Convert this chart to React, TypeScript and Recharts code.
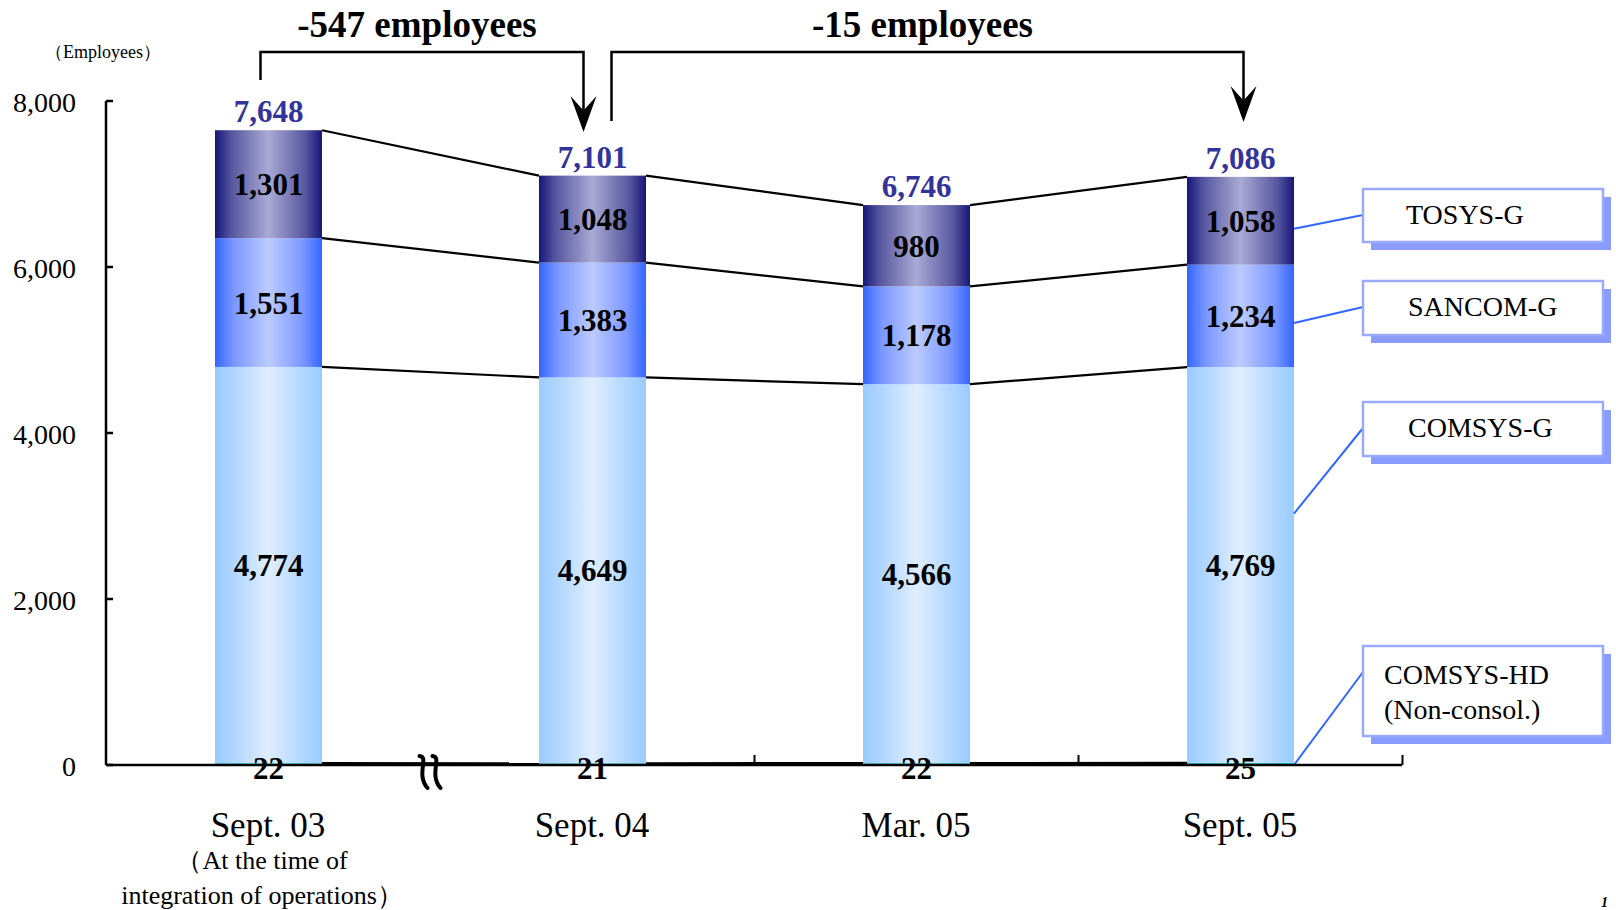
import React from "react";
import { Bar, BarChart, LabelList, XAxis, YAxis } from "recharts";

const periods = ["Sept. 03", "Sept. 04", "Mar. 05", "Sept. 05"];
const periodNote = ["（At the time of", "integration of operations）"];
const comsysHd = [22, 21, 22, 25];
const comsysG = [4774, 4649, 4566, 4769];
const sancomG = [1551, 1383, 1178, 1234];
const tosysG = [1301, 1048, 980, 1058];
const totals = [7648, 7101, 6746, 7086];
const yTicks = [0, 2000, 4000, 6000, 8000];
const changeLabels = ["-547 employees", "-15 employees"];

type Key = "hd" | "comsys" | "sancom" | "tosys";
const order: Key[] = ["hd", "comsys", "sancom", "tosys"];

const data = periods.map((period, i) => ({
  period,
  hd: comsysHd[i],
  comsys: comsysG[i],
  sancom: sancomG[i],
  tosys: tosysG[i],
  total: totals[i],
}));

// running stack tops, used by the connector lines between bars
const tops: Record<Key, number[]> = { hd: [], comsys: [], sancom: [], tosys: [] };
data.forEach((d, i) => {
  let acc = 0;
  order.forEach((k) => {
    acc += d[k];
    tops[k][i] = acc;
  });
});

const W = 1616;
const H = 910;
const MARGIN = { top: 101, right: 214, bottom: 0, left: 0 };
const Y_AXIS_W = 106;
const X_AXIS_H = 145;
const PLOT_W = W - MARGIN.left - MARGIN.right - Y_AXIS_W;
const STEP = PLOT_W / periods.length;
const Y_MAX = yTicks[yTicks.length - 1];
const SERIF = "'Liberation Serif', 'Times New Roman', Times, serif";

const fills: Record<Key, string> = {
  hd: "#33cccc",
  comsys: "url(#gComsys)",
  sancom: "url(#gSancom)",
  tosys: "url(#gTosys)",
};

const callouts: Record<Key, { lines: string[]; top: number; height: number; anchor: number; textX: number }> = {
  tosys: { lines: ["TOSYS-G"], top: 189, height: 53, anchor: 0.59, textX: 43 },
  sancom: { lines: ["SANCOM-G"], top: 281, height: 54, anchor: 0.57, textX: 45 },
  comsys: { lines: ["COMSYS-G"], top: 402, height: 54, anchor: 0.37, textX: 45 },
  hd: { lines: ["COMSYS-HD", "(Non-consol.)"], top: 646, height: 90, anchor: 1, textX: 21 },
};

const fmt = (v: number) => Number(v).toLocaleString("en-US");

function Callout({ k, barRight, segTop, segH }: { k: Key; barRight: number; segTop: number; segH: number }) {
  const c = callouts[k];
  const bx = barRight + 69;
  const bw = 240;
  return (
    <g>
      <line x1={barRight} y1={segTop + segH * c.anchor} x2={bx} y2={c.top + 26} stroke="#3366ff" strokeWidth={2} />
      <rect x={bx + 8} y={c.top + 8} width={bw} height={c.height} fill="#8a9cff" />
      <rect x={bx} y={c.top} width={bw} height={c.height} fill="#fff" stroke="#9aabff" strokeWidth={2.5} />
      {c.lines.map((t, i) => (
        <text key={t} x={bx + c.textX} y={c.top + (c.lines.length > 1 ? 38 + i * 35 : 35)} fontFamily={SERIF} fontSize={28} fill="#000">
          {t}
        </text>
      ))}
    </g>
  );
}

function Bracket({ x1, x2, yStart, yTip, label }: { x1: number; x2: number; yStart: number; yTip: number; label: string }) {
  const yTop = 52;
  const headH = 36;
  const headW = 13;
  return (
    <g>
      <polyline
        points={`${x1},${yStart} ${x1},${yTop} ${x2},${yTop} ${x2},${yTip - headH * 0.6}`}
        fill="none"
        stroke="#000"
        strokeWidth={2.5}
      />
      <path
        d={`M${x2},${yTip} L${x2 - headW},${yTip - headH} L${x2},${yTip - headH * 0.6} L${x2 + headW},${yTip - headH} Z`}
        fill="#000"
      />
      <text x={(x1 + x2) / 2 - 5} y={37} textAnchor="middle" fontFamily={SERIF} fontSize={37} fontWeight="bold" fill="#000">
        {label}
      </text>
    </g>
  );
}

// one wavy stroke of the axis break mark
const breakStroke = (sx: number, base: number) =>
  `M${sx - 5},${base - 9} C${sx + 5},${base - 8} ${sx - 9},${base + 9} ${sx + 3},${base + 23}`;

function makeShape(key: Key) {
  return (props: any) => {
    const { x, y, width, height, index, background } = props;
    const plotTop = background?.y ?? MARGIN.top;
    const plotH = background?.height ?? H - MARGIN.top - X_AXIS_H;
    const yOf = (v: number) => plotTop + plotH * (1 - v / Y_MAX);
    const right = x + width;
    const base = y + height;
    const boundary = x + width / 2 + STEP / 2;
    const cx = x + width / 2;
    return (
      <g>
        <rect x={x} y={y} width={width} height={Math.max(height, 0)} fill={fills[key]} />
        {index < periods.length - 1 && (
          <line x1={right} y1={y} x2={x + STEP} y2={yOf(tops[key][index + 1])} stroke="#000" strokeWidth={2.2} />
        )}
        {key === "hd" && index === 0 && (
          <g stroke="#000" strokeWidth={4} fill="none" strokeLinecap="round">
            <path d={breakStroke(boundary - 6, base)} />
            <path d={breakStroke(boundary + 7, base)} />
          </g>
        )}
        {key === "hd" && index > 0 && (
          <line x1={boundary} y1={base} x2={boundary} y2={base - 10} stroke="#000" strokeWidth={2} />
        )}
        {key === "tosys" && index === 0 && (
          <Bracket x1={cx - 8} x2={cx + STEP - 9} yStart={80} yTip={132} label={changeLabels[0]} />
        )}
        {key === "tosys" && index === 1 && (
          <Bracket x1={cx + 19} x2={cx + 2 * STEP + 3} yStart={121} yTip={122} label={changeLabels[1]} />
        )}
        {index === periods.length - 1 && <Callout k={key} barRight={right} segTop={y} segH={height} />}
      </g>
    );
  };
}

const box = (p: any) => {
  const vb = p.viewBox && p.viewBox.width !== undefined ? p.viewBox : p;
  return { x: Number(vb.x), y: Number(vb.y), width: Number(vb.width), height: Number(vb.height) };
};

const centerLabel = (p: any) => {
  const b = box(p);
  return (
    <text x={b.x + b.width / 2} y={b.y + b.height / 2 + 11} textAnchor="middle" fontFamily={SERIF} fontSize={31} fontWeight="bold" fill="#000">
      {fmt(p.value)}
    </text>
  );
};

const totalLabel = (p: any) => {
  const b = box(p);
  return (
    <text x={b.x + b.width / 2} y={b.y - 8} textAnchor="middle" fontFamily={SERIF} fontSize={31} fontWeight="bold" fill="#333399">
      {fmt(p.value)}
    </text>
  );
};

const hdLabel = (p: any) => {
  const b = box(p);
  return (
    <text x={b.x + b.width / 2} y={b.y + b.height + 14} textAnchor="middle" fontFamily={SERIF} fontSize={31} fontWeight="bold" fill="#000">
      {fmt(p.value)}
    </text>
  );
};

const XTick = (p: any) => {
  const { x, y, payload, index } = p;
  return (
    <g>
      <text x={x} y={y + 72} textAnchor="middle" fontFamily={SERIF} fontSize={35} fill="#000">
        {payload.value}
      </text>
      {index === 0 &&
        periodNote.map((t, i) => (
          <text key={t} x={x - 6} y={y + 104 + i * 35} textAnchor="middle" fontFamily={SERIF} fontSize={26} fill="#000">
            {t}
          </text>
        ))}
    </g>
  );
};

const YTick = (p: any) => {
  const { x, y, payload } = p;
  return (
    <g>
      <line x1={x + 30} x2={x + 37} y1={y} y2={y} stroke="#000" strokeWidth={2.5} />
      <text x={x} y={y + 11} textAnchor="end" fontFamily={SERIF} fontSize={28} fill="#000">
        {fmt(payload.value)}
      </text>
    </g>
  );
};

export default function App() {
  return (
    <div style={{ position: "absolute", left: 0, top: 0, width: W, height: H, background: "#fff" }}>
      <svg width={0} height={0} style={{ position: "absolute" }}>
        <defs>
          <linearGradient id="gComsys" x1="0" y1="0" x2="1" y2="0">
            <stop offset="0" stopColor="#99ccff" />
            <stop offset="0.2" stopColor="#b4d8ff" />
            <stop offset="0.5" stopColor="#e0eeff" />
            <stop offset="0.8" stopColor="#b4d8ff" />
            <stop offset="1" stopColor="#99ccff" />
          </linearGradient>
          <linearGradient id="gSancom" x1="0" y1="0" x2="1" y2="0">
            <stop offset="0" stopColor="#3366ff" />
            <stop offset="0.18" stopColor="#7c98ff" />
            <stop offset="0.5" stopColor="#bccbff" />
            <stop offset="0.82" stopColor="#7c98ff" />
            <stop offset="1" stopColor="#3366ff" />
          </linearGradient>
          <linearGradient id="gTosys" x1="0" y1="0" x2="1" y2="0">
            <stop offset="0" stopColor="#16167a" />
            <stop offset="0.15" stopColor="#55559e" />
            <stop offset="0.5" stopColor="#aaaad6" />
            <stop offset="0.85" stopColor="#55559e" />
            <stop offset="1" stopColor="#16167a" />
          </linearGradient>
        </defs>
      </svg>
      <BarChart width={W} height={H} data={data} margin={MARGIN}>
        <XAxis
          dataKey="period"
          height={X_AXIS_H}
          tickLine={false}
          tickSize={0}
          tickMargin={0}
          axisLine={{ stroke: "#000", strokeWidth: 2.5 }}
          tick={XTick}
          interval={0}
        />
        <YAxis
          width={Y_AXIS_W}
          domain={[0, Y_MAX]}
          ticks={yTicks}
          tickLine={false}
          tickSize={0}
          tickMargin={30}
          axisLine={{ stroke: "#000", strokeWidth: 2.5 }}
          tick={YTick}
        />
        <Bar dataKey="hd" stackId="s" barSize={107} shape={makeShape("hd")} isAnimationActive={false}>
          <LabelList dataKey="hd" content={hdLabel} />
        </Bar>
        <Bar dataKey="comsys" stackId="s" barSize={107} shape={makeShape("comsys")} isAnimationActive={false}>
          <LabelList dataKey="comsys" content={centerLabel} />
        </Bar>
        <Bar dataKey="sancom" stackId="s" barSize={107} shape={makeShape("sancom")} isAnimationActive={false}>
          <LabelList dataKey="sancom" content={centerLabel} />
        </Bar>
        <Bar dataKey="tosys" stackId="s" barSize={107} shape={makeShape("tosys")} isAnimationActive={false}>
          <LabelList dataKey="tosys" content={centerLabel} />
          <LabelList dataKey="total" content={totalLabel} />
        </Bar>
      </BarChart>
      <svg width={W} height={H} style={{ position: "absolute", left: 0, top: 0, pointerEvents: "none" }}>
        <text x={103} y={58} textAnchor="middle" fontFamily={SERIF} fontSize={18} fill="#000">
          （Employees）
        </text>
        <text x={1601} y={907} fontFamily={SERIF} fontSize={14} fontWeight="bold" fontStyle="italic" fill="#000">
          1
        </text>
      </svg>
    </div>
  );
}
